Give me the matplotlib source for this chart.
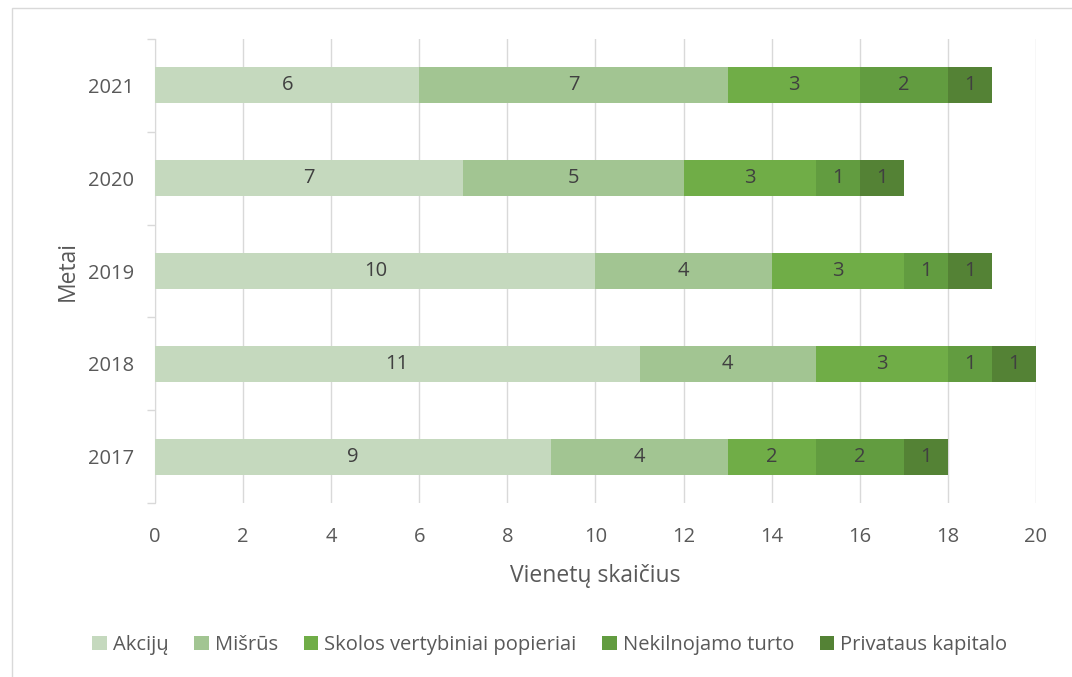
import matplotlib
matplotlib.use("Agg")
import matplotlib.pyplot as plt
from matplotlib.patches import Rectangle
import numpy as np

years = ["2017", "2018", "2019", "2020", "2021"]
series_names = ["Akcijų", "Mišrūs", "Skolos vertybiniai popieriai", "Nekilnojamo turto", "Privataus kapitalo"]
akciju = [9, 11, 10, 7, 6]
misrus = [4, 4, 4, 5, 7]
skolos = [2, 3, 3, 3, 3]
nekilnojamo = [2, 1, 1, 1, 2]
privataus = [1, 1, 1, 1, 1]
colors = ["#C5D9BE", "#A2C592", "#70AD47", "#629C40", "#548235"]

plt.rcParams['font.family'] = ['Open Sans', 'DejaVu Sans']

fig = plt.figure(figsize=(10.72, 6.77), dpi=100)
ax = fig.add_axes([0.1446, 0.2563, 0.8218, 0.6868])

data = [akciju, misrus, skolos, nekilnojamo, privataus]
y = np.arange(len(years))
left = np.zeros(len(years))
handles = []
for name, vals, c in zip(series_names, data, colors):
    vals = np.array(vals, dtype=float)
    b = ax.barh(y, vals, left=left, height=0.39, color=c, label=name, zorder=3)
    handles.append(b)
    for yi, l, v in zip(y, left, vals):
        ax.text(l + v / 2, yi, f"{int(v)}", ha='center', va='center',
                fontsize=14.5, color='#404040', zorder=4)
    left += vals

ax.set_xlim(0, 20)
ax.set_ylim(-0.5, len(years) - 0.5)
ax.set_xticks(np.arange(0, 21, 2))
ax.set_yticks(y)
ax.set_yticklabels(years)
ax.set_yticks(np.arange(-0.5, len(years), 1), minor=True)
ax.tick_params(axis='y', which='major', length=0, pad=15, labelsize=14.5, labelcolor='#595959')
ax.tick_params(axis='y', which='minor', length=6, color='#D9D9D9', width=1)
ax.tick_params(axis='x', length=0, pad=17, labelsize=14.5, labelcolor='#595959')
ax.grid(axis='x', color='#D9D9D9', linewidth=1, zorder=0)
for s in ['top', 'right', 'bottom']:
    ax.spines[s].set_visible(False)
ax.spines['left'].set_color('#D9D9D9')
ax.set_xlabel("Vienetų skaičius", fontsize=16.5, color='#595959', labelpad=12)
ax.set_ylabel("Metai", fontsize=16.5, color='#595959', labelpad=6)

fig.legend(handles=handles, labels=series_names, loc='center', bbox_to_anchor=(0.513, 0.047),
           ncol=5, frameon=False, fontsize=14.5, handlelength=0.7, handleheight=0.7,
           handletextpad=0.3, columnspacing=1.3, labelcolor='#595959')

fig.patches.append(Rectangle((0.011, -0.01), 0.99, 0.998, transform=fig.transFigure,
                             fill=False, edgecolor='#D9D9D9', linewidth=1))

fig.savefig("out.png", dpi=100)
